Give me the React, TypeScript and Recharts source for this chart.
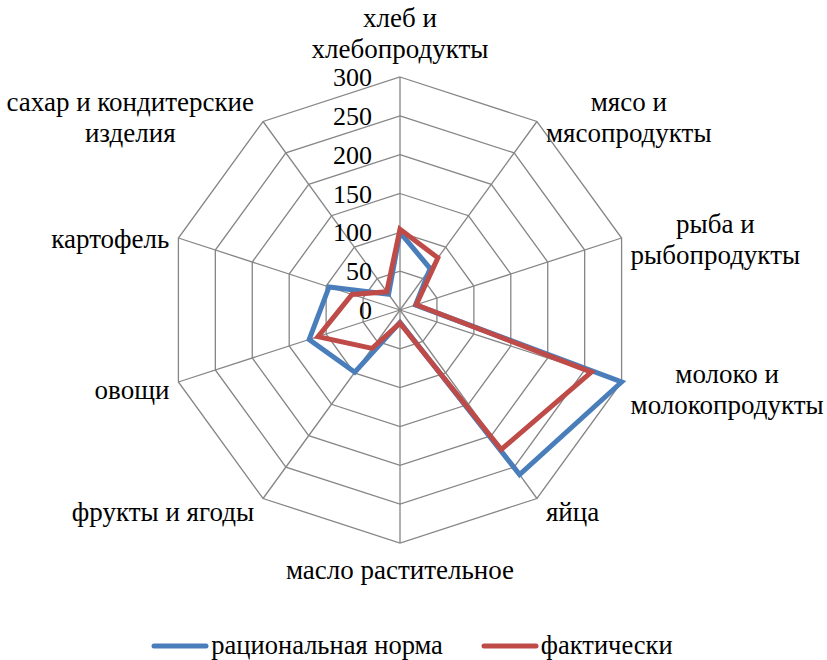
import React from "react";
import {
  RadarChart,
  Radar,
  PolarGrid,
  PolarAngleAxis,
  PolarRadiusAxis,
  Legend,
} from "recharts";

const categories = [
  "хлеб и\nхлебопродукты",
  "мясо и\nмясопродукты",
  "рыба и\nрыбопродукты",
  "молоко и\nмолокопродукты",
  "яйца",
  "масло растительное",
  "фрукты и ягоды",
  "овощи",
  "картофель",
  "сахар и кондитерские\nизделия",
];
const normValues = [100, 66, 21, 300, 262, 16, 99, 123, 96, 25];
const actualValues = [104, 83, 22, 259, 222, 17, 61, 111, 65, 29];
const radiusTicks = [0, 50, 100, 150, 200, 250, 300];

const data = categories.map((name, i) => ({
  name,
  norm: normValues[i],
  actual: actualValues[i],
}));

const CX = 400;
const CY = 310;
const R = 233;
const FONT = "Liberation Serif, DejaVu Serif, serif";
const SIZE = 27;
const LINE = 31;

let ctx: CanvasRenderingContext2D | null = null;
function measure(s: string) {
  if (!ctx) ctx = document.createElement("canvas").getContext("2d");
  if (!ctx) return s.length * SIZE * 0.45;
  ctx.font = `${SIZE}px "Liberation Serif"`;
  return ctx.measureText(s).width;
}

function AngleTick(props: any) {
  const { x, y, payload } = props;
  const dx = x - CX;
  const dy = y - CY;
  const len = Math.hypot(dx, dy) || 1;
  const ux = dx / len;
  const uy = dy / len;
  const vx = CX + ux * R;
  const vy = CY + uy * R;
  const lines = String(payload.value).split("\n");
  const w = Math.max(...lines.map(measure));
  const h = lines.length * LINE;
  let left;
  if (ux > 0.1) left = vx + 9;
  else if (ux < -0.1) left = vx - 9 - w;
  else left = vx - w / 2;
  let centerY;
  if (Math.abs(ux) <= 0.1) centerY = vy + uy * (h / 2 + 12);
  else centerY = vy + 5 + 11 * uy;
  const midX = left + w / 2;
  return (
    <text style={{ fontFamily: FONT }} fontSize={SIZE} fill="#000" textAnchor="middle">
      {lines.map((l, i) => (
        <tspan key={i} x={midX} y={centerY - h / 2 + i * LINE + 24}>
          {l}
        </tspan>
      ))}
    </text>
  );
}

function RadiusTick(props: any) {
  const { x, y, payload } = props;
  return (
    <text
      x={x - 28}
      y={y + 9}
      textAnchor="end"
      style={{ fontFamily: FONT }}
      fontSize={26}
      fill="#000"
    >
      {payload.value}
    </text>
  );
}

function renderLegend(props: any) {
  const { payload } = props;
  return (
    <div
      style={{
        display: "flex",
        justifyContent: "center",
        gap: 38,
        fontFamily: FONT,
        fontSize: 26.5,
      }}
    >
      {payload.map((p: any) => (
        <div key={p.value} style={{ display: "flex", alignItems: "center" }}>
          <svg width={58} height={10} style={{ marginRight: 2 }}>
            <line
              x1={3}
              y1={5}
              x2={55}
              y2={5}
              stroke={p.color}
              strokeWidth={5}
              strokeLinecap="round"
            />
          </svg>
          <span>{p.value}</span>
        </div>
      ))}
    </div>
  );
}

export default function App() {
  return (
    <div style={{ position: "absolute", left: 0, top: 0, background: "#fff" }}>
      <RadarChart
        width={827}
        height={660}
        data={data}
        cx={CX}
        cy={CY}
        outerRadius={R}
        startAngle={90}
        endAngle={-270}
      >
        <PolarGrid gridType="polygon" stroke="#868686" strokeWidth={1.3} />
        <PolarAngleAxis
          dataKey="name"
          tick={<AngleTick />}
          axisLine={false}
          tickLine={false}
        />
        <PolarRadiusAxis
          angle={90}
          domain={[0, 300]}
          ticks={radiusTicks}
          tick={<RadiusTick />}
          axisLine={false}
          tickLine={false}
        />
        <Radar
          name="рациональная норма"
          dataKey="norm"
          stroke="#4a7ebb"
          strokeWidth={5}
          fill="none"
          fillOpacity={0}
          strokeLinejoin="miter"
          isAnimationActive={false}
        />
        <Radar
          name="фактически"
          dataKey="actual"
          stroke="#be4b48"
          strokeWidth={5}
          fill="none"
          fillOpacity={0}
          strokeLinejoin="miter"
          isAnimationActive={false}
        />
        <Legend
          content={renderLegend}
          wrapperStyle={{ top: 630, left: 0, width: 824 }}
        />
      </RadarChart>
    </div>
  );
}
